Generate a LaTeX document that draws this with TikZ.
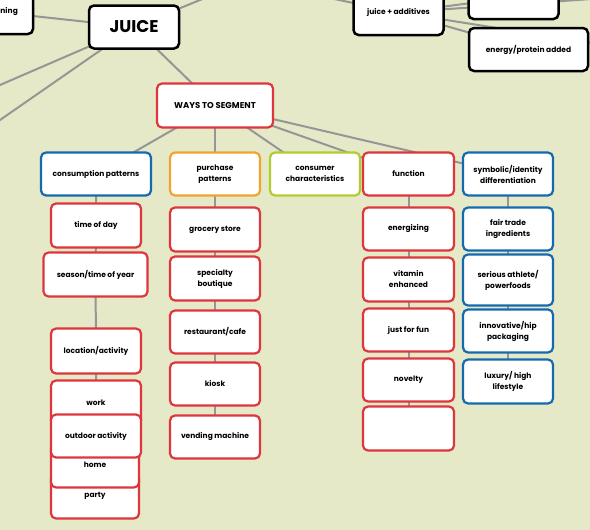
\documentclass[tikz,border=0pt]{standalone}
\usepackage{fontspec}
\setmainfont{Poppins}
\definecolor{bgc}{RGB}{230,233,199}
\definecolor{rd}{RGB}{222,54,60}
\definecolor{bl}{RGB}{20,106,176}
\definecolor{og}{RGB}{240,164,48}
\definecolor{gn}{RGB}{178,204,46}
\definecolor{ln}{RGB}{150,150,150}
\pgfdeclarelayer{bg}
\pgfdeclarelayer{back}
\pgfsetlayers{bg,back,main}
\begin{document}
\begin{tikzpicture}[x=1pt,y=-1pt,
  box/.style={rectangle, rounded corners=5pt, fill=white, line width=2.2pt,
    inner sep=0pt, align=center, minimum width=90pt, minimum height=43pt,
    font=\fontsize{7.5}{11}\selectfont\bfseries},
  blk/.style={box, draw=black, line width=2.5pt},
  rbox/.style={box, draw=rd},
  bbox/.style={box, draw=bl},
  obox/.style={box, draw=og},
  gbox/.style={box, draw=gn},
  conn/.style={draw=ln, line width=2pt}]
\useasboundingbox (0,0) rectangle (590,530);
\begin{pgfonlayer}{bg}
  \fill[bgc] (0,0) rectangle (590,530);
\end{pgfonlayer}
\clip (0,0) rectangle (590,530);
% top nodes
\node[blk, minimum width=74pt, minimum height=44pt] (pos) at (-4,12) {positioning};
\node[blk, font=\fontsize{17}{20}\selectfont\bfseries] (juice) at (134,27) {JUICE};
\node[blk, minimum height=45pt] (ja) at (398.5,12.5) {juice + additives};
\node[blk] (va) at (513.5,-2.5) {vitamins added};
\node[blk, minimum width=119pt] (ep) at (528.5,49.5) {energy/protein added};
\node[rbox, minimum width=116pt, minimum height=44pt, font=\fontsize{8.5}{10}\selectfont\bfseries] (ways) at (215,105.5) {WAYS TO SEGMENT};
\coordinate (offL1) at (-134,143);
\coordinate (offL2) at (-134,213);
\coordinate (offT) at (266,-27);
\coordinate (offJA) at (282,-12);
\coordinate (offR1) at (620,-3);
\coordinate (offR2) at (650,52);
% column 1
\node[bbox, minimum width=110pt] (cp) at (96,174) {consumption patterns};
\node[rbox, minimum height=44pt] (td) at (96,225.5) {time of day};
\node[rbox, minimum width=104pt, minimum height=44pt] (sea) at (95.5,274.5) {season/time of year};
\node[rbox, minimum height=45pt] (loc) at (96,351) {location/activity};
\node[rbox, minimum width=88pt, minimum height=45pt] (party) at (95,496) {party};
\node[rbox, minimum width=88pt, minimum height=45pt] (home) at (95,465) {home};
\node[rbox, minimum height=45pt] (work) at (96,403) {work};
\node[rbox] (out) at (96,436) {outdoor activity};
% column 2
\node[obox] (pp) at (215,174) {purchase\\patterns};
\node[rbox, minimum height=44pt] (gs) at (215,229.5) {grocery store};
\node[rbox, minimum height=44pt] (sb) at (215,278.5) {specialty\\boutique};
\node[rbox] (rc) at (215,332) {restaurant/cafe};
\node[rbox] (ki) at (215,384) {kiosk};
\node[rbox] (vm) at (215,437) {vending machine};
% column 3
\node[gbox] (cc) at (315,174) {consumer\\characteristics};
% column 4
\node[rbox, minimum width=91pt] (fn) at (408.5,174) {function};
\node[rbox, minimum width=91pt] (en) at (408.5,229) {energizing};
\node[rbox, minimum width=91pt, minimum height=44pt] (ve) at (408.5,279.5) {vitamin\\enhanced};
\node[rbox, minimum width=91pt] (jf) at (408.5,330) {just for fun};
\node[rbox, minimum width=91pt] (nv) at (408.5,380) {novelty};
\node[rbox, minimum width=91pt, minimum height=44pt] (em) at (408.5,428.5) {};
% column 5
\node[bbox] (sy) at (508,174) {symbolic/identity\\differentiation};
\node[bbox] (ft) at (508,229) {fair trade\\ingredients};
\node[bbox, minimum height=51pt] (sa) at (508,280) {serious athlete/\\powerfoods};
\node[bbox] (ih) at (508,331) {innovative/hip\\packaging};
\node[bbox, minimum height=44pt] (lx) at (508,381.5) {luxury/ high\\lifestyle};
% connectors
\begin{pgfonlayer}{back}
  \clip (0,0) rectangle (590,530);
  \draw[conn] (juice.center) -- (pos.center);
  \draw[conn] (juice.center) -- (offL1);
  \draw[conn] (juice.center) -- (offL2);
  \draw[conn] (juice.center) -- (offT);
  \draw[conn] (juice.center) -- (ways.center);
  \draw[conn] (ja.center) -- (offJA);
  \draw[conn] (ja.center) -- (va.center);
  \draw[conn] (ja.center) -- (offR1);
  \draw[conn] (ja.center) -- (ep.center);
  \draw[conn] (ja.center) -- (offR2);
  \draw[conn] (ways.center) -- (cp.center);
  \draw[conn] (ways.center) -- (pp.center);
  \draw[conn] (ways.center) -- (cc.center);
  \draw[conn] (ways.center) -- (fn.center);
  \draw[conn] (ways.center) -- (sy.center);
  \draw[conn] (cp.center) -- (td.center) -- (sea.center) -- (loc.center) -- (work.center) -- (out.center) -- (home.center) -- (party.center);
  \draw[conn] (pp.center) -- (gs.center) -- (sb.center) -- (rc.center) -- (ki.center) -- (vm.center);
  \draw[conn] (fn.center) -- (en.center) -- (ve.center) -- (jf.center) -- (nv.center) -- (em.center);
  \draw[conn] (sy.center) -- (ft.center) -- (sa.center) -- (ih.center) -- (lx.center);
\end{pgfonlayer}
\end{tikzpicture}
\end{document}
